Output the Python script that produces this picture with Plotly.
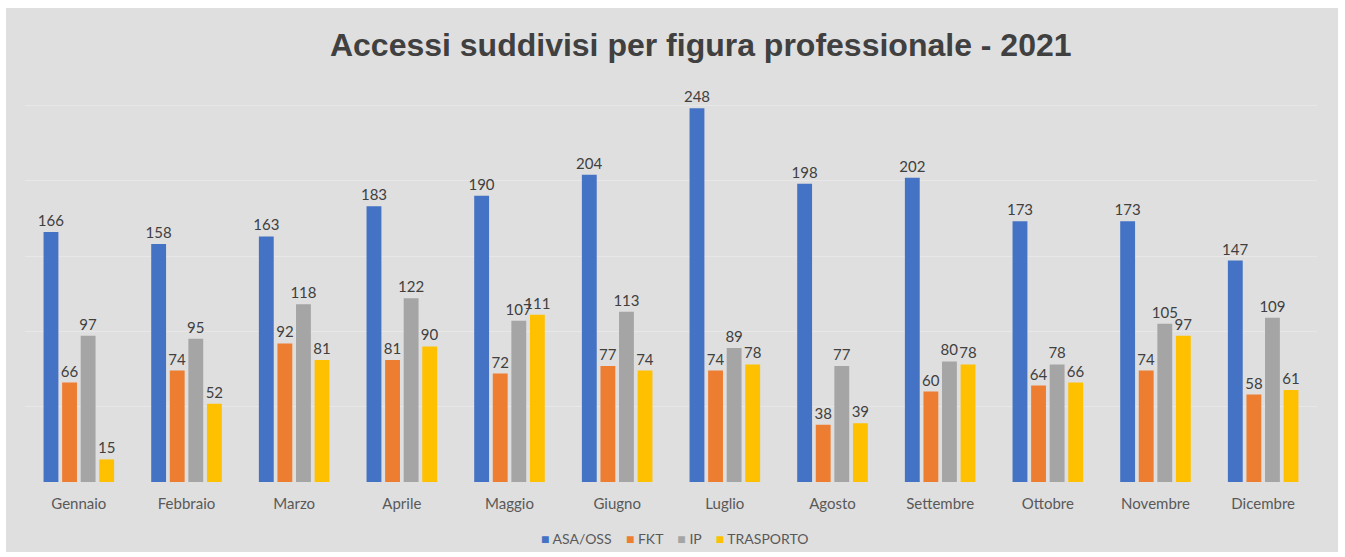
import plotly.graph_objects as go

months = ["Gennaio", "Febbraio", "Marzo", "Aprile", "Maggio", "Giugno",
          "Luglio", "Agosto", "Settembre", "Ottobre", "Novembre", "Dicembre"]
asa_oss = [166, 158, 163, 183, 190, 204, 248, 198, 202, 173, 173, 147]
fkt = [66, 74, 92, 81, 72, 77, 74, 38, 60, 64, 74, 58]
ip = [97, 95, 118, 122, 107, 113, 89, 77, 80, 78, 105, 109]
trasporto = [15, 52, 81, 90, 111, 74, 78, 39, 78, 66, 97, 61]

series = [
    ("ASA/OSS", asa_oss, "#4472C4"),
    ("FKT", fkt, "#ED7D31"),
    ("IP", ip, "#A5A5A5"),
    ("TRASPORTO", trasporto, "#FFC000"),
]

BG = "#dfdfdf"
fig = go.Figure()
for name, vals, color in series:
    fig.add_trace(go.Bar(x=months, y=vals, name=name,
                         marker=dict(color=color, line=dict(width=0)),
                         text=vals, textposition="outside",
                         textfont=dict(family="Lato", size=15, color="#404040"),
                         cliponaxis=False))

# grey card behind the chart, with a thin white border around it
fig.add_shape(type="rect", xref="paper", yref="paper",
              x0=-0.0147, x1=1.0163, y0=-0.155, y1=1.0487,
              fillcolor=BG, line=dict(width=0), layer="below")

# compact legend like the Excel one: small squares close to the names
legend_text = "&nbsp;&nbsp;&nbsp;&nbsp;".join(
    f'<span style="color:{color}">■</span>&nbsp;{name}' for name, _, color in series)
fig.add_annotation(text=legend_text, xref="paper", yref="paper",
                   x=(675 - 25) / 1292, y=(482 - 538) / 452,
                   xanchor="center", yanchor="middle", showarrow=False,
                   font=dict(family="Lato", size=14, color="#595959"))

fig.update_layout(
    width=1345, height=557,
    margin=dict(l=25, r=28, t=30, b=75),
    paper_bgcolor="white",
    plot_bgcolor="rgba(0,0,0,0)",
    barmode="group", bargap=0.31, bargroupgap=0.2,
    showlegend=False,
    uniformtext=dict(minsize=15, mode="show"),
    title=dict(text="<b>Accessi suddivisi per figura professionale - 2021</b>",
               x=0.521, xanchor="center", y=1 - 45 / 557, yanchor="middle",
               font=dict(family="Liberation Sans", size=32, color="#404040")),
    xaxis=dict(showgrid=False, zeroline=False, ticks="outside", ticklen=8,
               tickcolor="rgba(0,0,0,0)", automargin=False,
               tickfont=dict(family="Lato", size=15, color="#595959")),
    yaxis=dict(range=[0, 300], dtick=50, showticklabels=False, automargin=False,
               gridcolor="#e7e7e7", gridwidth=1, zeroline=False),
)

# drop the browser's default 8px body margin so the figure sits at the page corner
fig.write_html("out.html", config={"displayModeBar": False},
               post_script="document.body.style.margin='0';")
